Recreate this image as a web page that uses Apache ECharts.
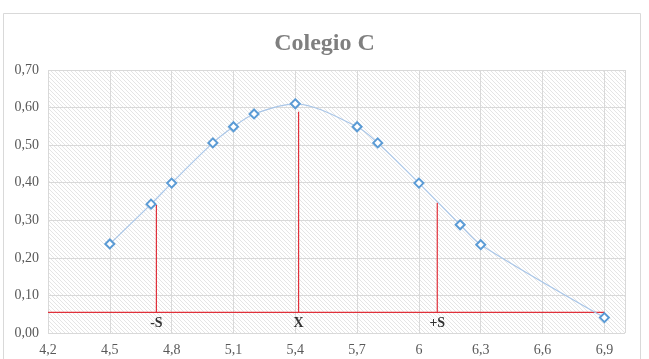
<!DOCTYPE html>
<html>
<head>
<meta charset="utf-8">
<script src="https://cdn.jsdelivr.net/npm/echarts@6/dist/echarts.min.js"></script>
<style>
html, body { margin: 0; padding: 0; background: #fff; }
#main { width: 649px; height: 359px; }
</style>
</head>
<body>
<div id="main"></div>
<script>
// puntos de la curva
var xValues = [4.5, 4.7, 4.8, 5.0, 5.1, 5.2, 5.4, 5.7, 5.8, 6.0, 6.2, 6.3, 6.9];
var yValues = [0.237, 0.343, 0.399, 0.506, 0.549, 0.583, 0.61, 0.549, 0.506, 0.399, 0.288, 0.235, 0.041];

// lineas rojas: -S, X, +S
var refNames = ['-S', 'X', '+S'];
var refX = [4.726, 5.416, 6.089];
var refTop = [0.341, 0.589, 0.347];
var baseY = 0.055;
var baseFrom = 4.2, baseTo = 6.9;

// patron rayado del fondo
var pc = document.createElement('canvas');
pc.width = 4; pc.height = 4;
var ctx = pc.getContext('2d');
ctx.fillStyle = '#ffffff';
ctx.fillRect(0, 0, 4, 4);
ctx.strokeStyle = '#dadada';
ctx.lineWidth = 0.7;
ctx.beginPath();
ctx.moveTo(-1, -1); ctx.lineTo(5, 5);
ctx.moveTo(-1, 3); ctx.lineTo(1, 5);
ctx.moveTo(3, -1); ctx.lineTo(5, 1);
ctx.stroke();

var serif = '"Liberation Serif", "Times New Roman", serif';
var red = '#e0303a';

var curve = xValues.map(function (x, i) { return [x, yValues[i]]; });

var series = [{
    type: 'line',
    data: curve,
    smooth: 0.3,
    symbol: 'diamond',
    symbolSize: 9,
    lineStyle: { color: '#a9c6e8', width: 1.2 },
    itemStyle: { color: '#ffffff', borderColor: '#5b9bd5', borderWidth: 2 },
    z: 5
}, {
    type: 'line',
    data: [[baseFrom, baseY], [baseTo, baseY]],
    symbol: 'none',
    lineStyle: { color: red, width: 1.2 },
    z: 3
}, {
    // etiquetas -S, X, +S
    type: 'scatter',
    data: refX.map(function (x, i) { return { name: refNames[i], value: [x, baseY] }; }),
    symbolSize: 1,
    itemStyle: { color: 'rgba(0,0,0,0)' },
    label: {
        show: true,
        position: 'bottom',
        distance: 4,
        formatter: '{b}',
        color: '#000',
        fontFamily: serif,
        fontWeight: 'bold',
        fontSize: 14
    },
    silent: true,
    z: 6
}];

refX.forEach(function (x, i) {
    series.push({
        type: 'line',
        data: [[x, baseY], [x, refTop[i]]],
        symbol: 'none',
        lineStyle: { color: red, width: 1.2 },
        z: 3
    });
});

var option = {
    backgroundColor: '#fff',
    animation: false,
    title: {
        text: 'Colegio C',
        left: 'center',
        top: 27,
        textStyle: { color: '#7f7f7f', fontFamily: serif, fontWeight: 'bold', fontSize: 24 }
    },
    graphic: [{
        type: 'rect',
        shape: { x: 3.5, y: 13.5, width: 637, height: 350 },
        style: { fill: null, stroke: '#d9d9d9', lineWidth: 1 },
        silent: true
    }],
    grid: {
        left: 48, right: 24, top: 70, bottom: 26,
        show: true,
        borderWidth: 0,
        backgroundColor: { image: pc, repeat: 'repeat' }
    },
    xAxis: {
        type: 'value',
        min: 4.2, max: 7.0, interval: 0.3,
        axisLine: { show: false },
        axisTick: { show: false },
        splitLine: { show: true, lineStyle: { color: '#d9d9d9', width: 1 } },
        axisLabel: {
            showMaxLabel: false,
            margin: 10,
            color: '#595959',
            fontFamily: serif,
            fontSize: 14,
            formatter: function (v) { return String(+v.toFixed(1)).replace('.', ','); }
        }
    },
    yAxis: {
        type: 'value',
        min: 0, max: 0.7, interval: 0.1,
        axisLine: { show: false },
        axisTick: { show: false },
        splitLine: { show: true, lineStyle: { color: '#d9d9d9', width: 1 } },
        axisLabel: {
            margin: 9,
            color: '#595959',
            fontFamily: serif,
            fontSize: 14,
            formatter: function (v) { return v.toFixed(2).replace('.', ','); }
        }
    },
    series: series
};

var myChart = echarts.init(document.getElementById('main'));
myChart.setOption(option);
</script>
</body>
</html>
